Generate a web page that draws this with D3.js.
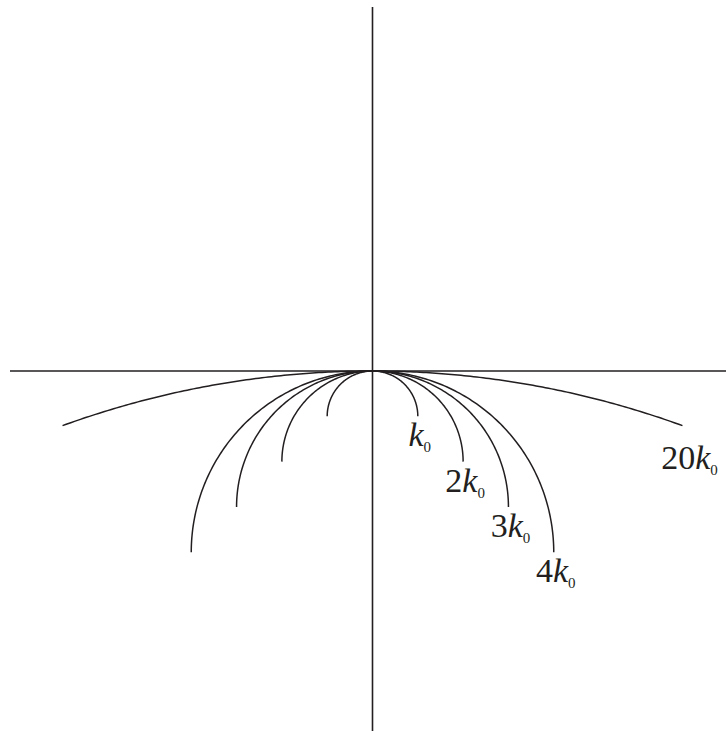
<!DOCTYPE html>
<html>
<head>
<meta charset="utf-8">
<script src="https://cdn.jsdelivr.net/npm/d3@7"></script>
<style>
  html, body { margin: 0; padding: 0; background: #fff; }
  svg { display: block; }
</style>
</head>
<body>
<svg id="chart" width="726" height="731"></svg>
<script>
// Circles of radius n·k0, all tangent to the horizontal axis at the origin
const multiples   = [1, 2, 3, 4, 20];          // radius in units of k0
const halfAngles  = [90, 90, 90, 90, 20];      // arc half-span in degrees, measured from the top
const prefixes    = ["", "2", "3", "4", "20"]; // coefficient shown in front of k0
const axisExtent  = [-8, 8];                   // axis range in units of k0

const ink = "#231f20";
const serif = "'Liberation Serif', 'Times New Roman', Times, serif";
const svg = d3.select("#chart");

const x = d3.scaleLinear().domain(axisExtent).range([10, 735]);
const y = d3.scaleLinear().domain(axisExtent).range([733.5, 8.5]);

// axes
svg.append("line")
  .attr("x1", x(axisExtent[0])).attr("x2", x(axisExtent[1]))
  .attr("y1", y(0)).attr("y2", y(0))
  .attr("stroke", ink).attr("stroke-width", 1.6);
svg.append("line")
  .attr("x1", x(0)).attr("x2", x(0))
  .attr("y1", y(axisExtent[1]) - 1.5).attr("y2", y(axisExtent[0]))
  .attr("stroke", ink).attr("stroke-width", 1.6);

const line = d3.line().x(d => x(d[0])).y(d => y(d[1]));

const arcs = multiples.map((r, i) => {
  const a = halfAngles[i] * Math.PI / 180;
  const pts = d3.range(0, 201).map(j => {
    const t = -a + (2 * a) * j / 200;
    return [r * Math.sin(t), -r + r * Math.cos(t)];
  });
  return { r, pts, end: pts[pts.length - 1], prefix: prefixes[i], half: halfAngles[i] };
});

svg.append("g").selectAll("path")
  .data(arcs)
  .join("path")
  .attr("d", d => line(d.pts))
  .attr("fill", "none")
  .attr("stroke", ink)
  .attr("stroke-width", 1.5);

// labels sit below the right-hand end of each arc
const labels = svg.append("g").selectAll("text")
  .data(arcs)
  .join("text")
  .attr("x", d => x(d.end[0]) + (d.half < 90 ? 7 : 2))
  .attr("y", d => y(d.end[1]) + (d.half < 90 ? 43 : 30))
  .attr("text-anchor", "middle")
  .attr("font-family", serif)
  .attr("fill", ink)
  .attr("font-size", 34);

labels.append("tspan").text(d => d.prefix);
labels.append("tspan").attr("font-style", "italic").text("k");
labels.append("tspan").attr("font-size", 15).attr("dy", 6).text("0");
</script>
</body>
</html>
